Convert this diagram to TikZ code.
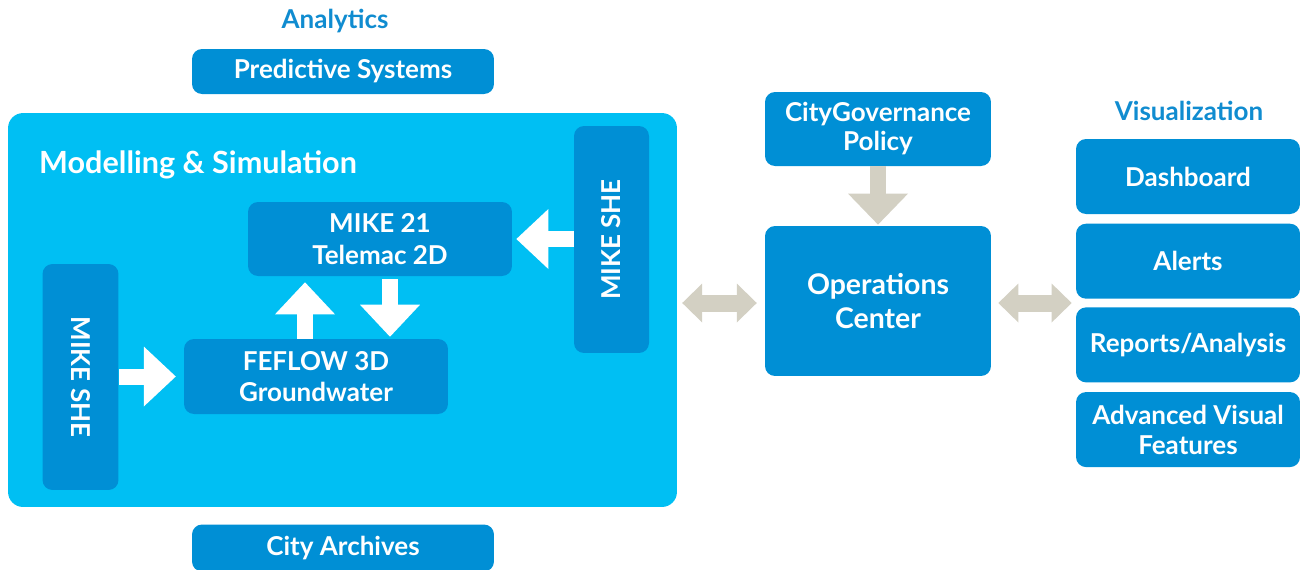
\documentclass[tikz,border=0pt]{standalone}
\usepackage{fontspec}
\setmainfont{Lato}
\usepackage{tikz}
\usetikzlibrary{arrows.meta,positioning}

\definecolor{boxblue}{RGB}{0,143,213}
\definecolor{panelcyan}{RGB}{0,191,243}
\definecolor{linkgray}{RGB}{211,208,195}
\definecolor{headblue}{RGB}{16,140,208}

\begin{document}
\begin{tikzpicture}[
x=0.02cm,y=-0.02cm,
font=\bfseries\fontsize{14.8}{18}\selectfont,
box/.style={fill=boxblue,text=white,rounded corners=0.2cm,align=center,inner sep=0pt},
visbox/.style={box,minimum width=4.48cm,minimum height=1.5cm},
heading/.style={text=headblue},
whiteflow/.style={draw=white,line width=0.32cm,
  -{Triangle[length=0.64cm,width=1.2cm,line width=0pt]}},
grayflow/.style={draw=linkgray,line width=0.32cm,shorten >=0.6pt,
  -{Triangle[length=0.62cm,width=1.2cm,line width=0pt]}},
twoway/.style={draw=linkgray,line width=0.34cm,
  {Triangle[length=0.4cm,width=0.78cm,line width=0pt]}-{Triangle[length=0.4cm,width=0.78cm,line width=0pt]}}]
    \useasboundingbox (0,0) rectangle (1300,569);

    % Modelling panel
    \node[fill=panelcyan,rounded corners=0.3cm,minimum width=13.38cm,minimum height=7.88cm] (model) at (342.5,310) {};
    \node[anchor=west,text=white,font=\bfseries\fontsize{17.4}{20}\selectfont] (modeltitle) at (33,165) {Modelling \& Simulation};

    \node[box,minimum width=5.28cm,minimum height=1.48cm] (mike21) at (380,239) {MIKE 21\\Telemac 2D};
    \node[box,minimum width=5.28cm,minimum height=1.5cm] (feflow) at (316,376.5) {FEFLOW 3D\\Groundwater};
    \node[box,minimum width=1.52cm,minimum height=4.52cm] (sheleft) at (80.5,377) {};
    \node[text=white,rotate=-90] at (sheleft) {MIKE SHE};
    \node[box,minimum width=1.5cm,minimum height=4.54cm] (sheright) at (611.5,239.5) {};
    \node[text=white,rotate=90] at (sheright) {MIKE SHE};

    \draw[whiteflow,shorten >=4.5pt] (sheleft.east |- feflow.west) -- (feflow.west);
    \draw[whiteflow,shorten >=2.3pt] (sheright.west |- mike21.east) -- (mike21.east);
    \draw[whiteflow,shorten >=3.4pt] ([xshift=-0.22cm]feflow.north) -- ([xshift=-0.22cm]feflow.north |- mike21.south);
    \draw[whiteflow,shorten <=1.7pt,shorten >=1.1pt] ([xshift=0.2cm]mike21.south) -- ([xshift=0.2cm]mike21.south |- feflow.north);

    % Analytics and archives
    \node[heading] (analytics) at (335,21) {Analytics};
    \node[box,minimum width=6.04cm,minimum height=0.9cm] (predict) at (343,71.5) {Predictive Systems};
    \node[box,minimum width=6.04cm,minimum height=0.94cm] (archives) at (343,548) {City Archives};

    % Operations
    \node[box,minimum width=4.52cm,minimum height=1.48cm,font=\bfseries\fontsize{14.8}{16.5}\selectfont] (gov) at (878,129) {CityGovernance\\Policy};
    \node[box,minimum width=4.52cm,minimum height=3cm,font=\bfseries\fontsize{16.2}{19.5}\selectfont] (ops) at (878,301) {Operations\\Center};
    \draw[grayflow] (gov.south) -- (ops.north);

    % Visualization
    \node[heading] (vis) at (1189,111) {Visualization};
    \node[visbox] (dash) at (1188,176.5) {Dashboard};
    \node[visbox,below=0.18cm of dash] (alerts) {Alerts};
    \node[visbox,below=0.16cm of alerts] (reports) {Reports/Analysis};
    \node[visbox,below=0.18cm of reports,font=\bfseries\fontsize{14.8}{17}\selectfont] (adv) {Advanced Visual\\Features};

    \draw[twoway,shorten <=2.8pt,shorten >=4.5pt] (model.east |- 0,303) -- (ops.west |- 0,303);
    \draw[twoway,shorten <=4pt,shorten >=2.3pt] (ops.east |- 0,303) -- (alerts.west |- 0,303);

\end{tikzpicture}
\end{document}
